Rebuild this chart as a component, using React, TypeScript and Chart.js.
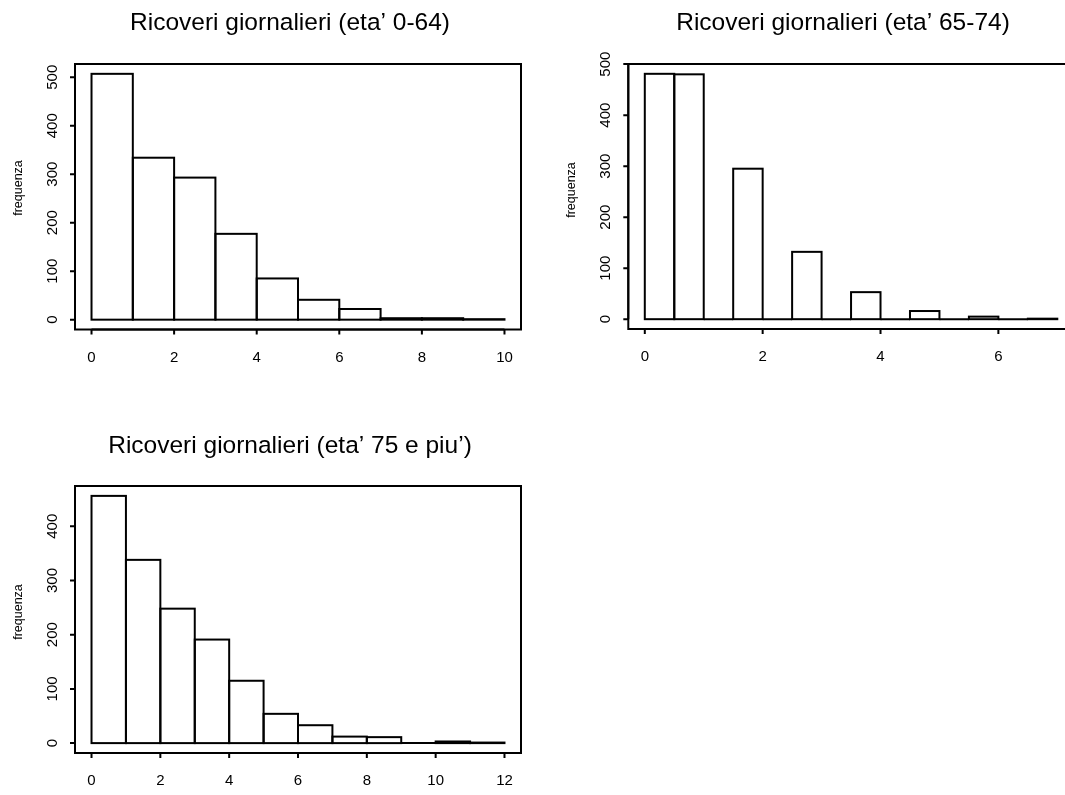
import React, { useEffect, useRef } from "react";
import { Chart, registerables } from "chart.js";

Chart.register(...registerables);

// ---------- data ----------
const breaks1 = [0, 1, 2, 3, 4, 5, 6, 7, 8, 9, 10];
const counts1 = [507, 334, 293, 177, 85, 41, 22, 3, 3, 1];
const xTicks1 = [0, 2, 4, 6, 8, 10];
const yTicks1 = [0, 100, 200, 300, 400, 500];
const title1 = "Ricoveri giornalieri (eta’ 0-64)";

const breaks2 = [0, 0.5, 1, 1.5, 2, 2.5, 3, 3.5, 4, 4.5, 5, 5.5, 6, 6.5, 7];
const counts2 = [481, 480, 0, 295, 0, 132, 0, 53, 0, 16, 0, 5, 0, 1];
const xTicks2 = [0, 2, 4, 6];
const yTicks2 = [0, 100, 200, 300, 400, 500];
const title2 = "Ricoveri giornalieri (eta’ 65-74)";

const breaks3 = [0, 1, 2, 3, 4, 5, 6, 7, 8, 9, 10, 11, 12];
const counts3 = [456, 338, 248, 191, 115, 54, 33, 12, 11, 0, 3, 1];
const xTicks3 = [0, 2, 4, 6, 8, 10, 12];
const yTicks3 = [0, 100, 200, 300, 400];
const title3 = "Ricoveri giornalieri (eta’ 75 e piu’)";

const yLabel = "frequenza";

// ---------- layout (positions / styles) ----------
const FONT = '"Liberation Sans", Arial, Helvetica, sans-serif';

type Layout = {
  left: number; top: number; w: number; h: number;
  pad: { left: number; top: number; right: number; bottom: number };
  titleX: number; titleY: number; ylabX: number; ylabY: number;
};

const layout1: Layout = {
  left: 0, top: 0, w: 540, h: 400,
  pad: { left: 75, top: 64, right: 19, bottom: 70.5 },
  titleX: 290, titleY: 30, ylabX: 19, ylabY: 188,
};
const layout2: Layout = {
  left: 540, top: 0, w: 560, h: 400,
  pad: { left: 88.3, top: 64, right: 26.2, bottom: 71 },
  titleX: 303, titleY: 30, ylabX: 32, ylabY: 190,
};
const layout3: Layout = {
  left: 0, top: 400, w: 540, h: 395,
  pad: { left: 75, top: 86, right: 19, bottom: 42 },
  titleX: 290, titleY: 53, ylabX: 19, ylabY: 212,
};

const rStylePlugin = {
  id: "rstyle",
  afterDatasetsDraw(chart: any, _args: any, opts: any) {
    const ctx = chart.ctx as CanvasRenderingContext2D;
    const area = chart.chartArea;
    const xs = chart.scales.x;
    const ys = chart.scales.y;
    ctx.save();
    ctx.strokeStyle = "#000";
    ctx.fillStyle = "#000";
    ctx.lineWidth = 2;
    ctx.lineJoin = "miter";
    ctx.lineCap = "butt";

    // histogram bar outlines (from the bar elements' geometry)
    const meta = chart.getDatasetMeta(0);
    meta.data.forEach((el: any) => {
      const p = el.getProps(["x", "y", "base", "width"], true);
      ctx.strokeRect(p.x - p.width / 2, p.y, p.width, p.base - p.y);
    });

    // box
    ctx.strokeRect(area.left, area.top, area.right - area.left, area.bottom - area.top);

    // x axis
    const xt: number[] = opts.xTicks;
    ctx.beginPath();
    ctx.moveTo(xs.getPixelForValue(xt[0]), area.bottom);
    ctx.lineTo(xs.getPixelForValue(xt[xt.length - 1]), area.bottom);
    xt.forEach((v) => {
      const px = xs.getPixelForValue(v);
      ctx.moveTo(px, area.bottom);
      ctx.lineTo(px, area.bottom + 5);
    });
    ctx.stroke();
    ctx.font = `15px ${FONT}`;
    ctx.textAlign = "center";
    ctx.textBaseline = "middle";
    xt.forEach((v) => {
      ctx.fillText(String(v), xs.getPixelForValue(v), area.bottom + 28);
    });

    // y axis
    const yt: number[] = opts.yTicks;
    ctx.beginPath();
    ctx.moveTo(area.left, ys.getPixelForValue(yt[0]));
    ctx.lineTo(area.left, ys.getPixelForValue(yt[yt.length - 1]));
    yt.forEach((v) => {
      const py = ys.getPixelForValue(v);
      ctx.moveTo(area.left - 5, py);
      ctx.lineTo(area.left, py);
    });
    ctx.stroke();
    yt.forEach((v) => {
      const py = ys.getPixelForValue(v);
      ctx.save();
      ctx.translate(area.left - 22.5, py);
      ctx.rotate(-Math.PI / 2);
      ctx.fillText(String(v), 0, 0);
      ctx.restore();
    });

    // y label
    ctx.save();
    ctx.font = `12.5px ${FONT}`;
    ctx.translate(opts.ylabX, opts.ylabY);
    ctx.rotate(-Math.PI / 2);
    ctx.fillText(opts.ylab, 0, 0);
    ctx.restore();

    // title
    ctx.font = `24.5px ${FONT}`;
    ctx.textBaseline = "alphabetic";
    ctx.fillText(opts.title, opts.titleX, opts.titleY);

    ctx.restore();
  },
};

function Histogram(props: {
  breaks: number[]; counts: number[]; xTicks: number[]; yTicks: number[];
  title: string; layout: Layout;
}) {
  const ref = useRef<HTMLCanvasElement | null>(null);
  const { breaks, counts, xTicks, yTicks, title, layout } = props;

  useEffect(() => {
    if (!ref.current) return;
    const points = counts.map((c, i) => ({ x: (breaks[i] + breaks[i + 1]) / 2, y: c }));
    const xr = breaks[breaks.length - 1] - breaks[0];
    const ymax = Math.max(...counts);
    const chart = new Chart(ref.current, {
      type: "bar",
      data: {
        datasets: [
          {
            data: points as any,
            backgroundColor: "#ffffff",
            borderWidth: 0,
            barPercentage: 1,
            categoryPercentage: 1,
          },
        ],
      },
      options: {
        animation: false,
        responsive: false,
        maintainAspectRatio: false,
        events: [],
        layout: { padding: layout.pad },
        scales: {
          x: {
            type: "linear",
            display: false,
            offset: false,
            min: breaks[0] - 0.04 * xr,
            max: breaks[breaks.length - 1] + 0.04 * xr,
            afterBuildTicks: (s: any) => {
              s.ticks = xTicks.map((v) => ({ value: v }));
            },
          },
          y: {
            type: "linear",
            display: false,
            min: -0.04 * ymax,
            max: 1.04 * ymax,
            afterBuildTicks: (s: any) => {
              s.ticks = yTicks.map((v) => ({ value: v }));
            },
          },
        },
        plugins: {
          legend: { display: false },
          title: { display: false },
          tooltip: { enabled: false },
          rstyle: {
            xTicks, yTicks, title, ylab: yLabel,
            titleX: layout.titleX, titleY: layout.titleY,
            ylabX: layout.ylabX, ylabY: layout.ylabY,
          },
        } as any,
      },
      plugins: [rStylePlugin],
    });
    return () => chart.destroy();
  }, []);

  return (
    <canvas
      ref={ref}
      width={layout.w}
      height={layout.h}
      style={{
        position: "absolute",
        left: layout.left,
        top: layout.top,
        width: layout.w,
        height: layout.h,
        display: "block",
      }}
    />
  );
}

export default function App() {
  return (
    <div
      style={{
        position: "fixed",
        left: 0,
        top: 0,
        width: 1065,
        height: 795,
        overflow: "hidden",
        background: "#ffffff",
      }}
    >
      <Histogram breaks={breaks1} counts={counts1} xTicks={xTicks1} yTicks={yTicks1} title={title1} layout={layout1} />
      <Histogram breaks={breaks2} counts={counts2} xTicks={xTicks2} yTicks={yTicks2} title={title2} layout={layout2} />
      <Histogram breaks={breaks3} counts={counts3} xTicks={xTicks3} yTicks={yTicks3} title={title3} layout={layout3} />
    </div>
  );
}
